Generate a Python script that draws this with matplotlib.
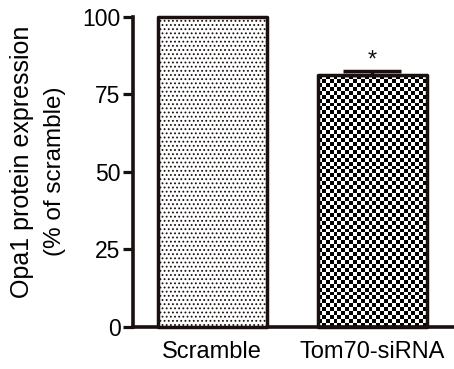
import numpy as np
import matplotlib.pyplot as plt

plt.rcParams['font.family'] = ['Liberation Sans', 'DejaVu Sans']
plt.rcParams['hatch.color'] = '#505050'
plt.rcParams['hatch.linewidth'] = 0.8

groups = ['Scramble', 'Tom70-siRNA']
values = [100.0, 81.3]
errors = [0.0, 1.3]
star_y = 86.0

ink = '#1a1010'
fig = plt.figure(figsize=(4.54, 3.69), dpi=100)
ax = fig.add_axes([0.293, 0.114, 0.707, 0.840])

x = np.arange(len(groups))
bars = ax.bar(x, values, width=0.68, color='white', edgecolor=ink,
              linewidth=2.5, zorder=3, clip_on=False)
bars[0].set_hatch('....')
for b in bars:
    b.set_joinstyle('round')

# checkerboard fill for the second bar
b = bars[1]
bx, bw, bh = b.get_x(), b.get_width(), b.get_height()
ncol, nrow = 28, 64
chk = (np.indices((nrow, ncol)).sum(axis=0) % 2).astype(float)
im = ax.imshow(chk, cmap='gray', extent=(bx, bx + bw, 0, bh), aspect='auto',
               interpolation='nearest', zorder=2)
im.set_clip_path(b)
b.set_facecolor('none')

ax.errorbar(x[1], values[1], yerr=[[0], [errors[1]]], fmt='none', ecolor=ink,
            elinewidth=2.5, capsize=21, capthick=2.5, zorder=4)
ax.text(x[1], star_y, '*', ha='center', va='center', fontsize=17, color=ink)

ax.set_xlim(-0.494, 1.51)
ax.set_ylim(0, 100)
ax.set_yticks([0, 25, 50, 75, 100])
ax.set_xticks(x)
ax.set_xticklabels(groups, fontsize=17)
ax.tick_params(axis='y', labelsize=16.5, length=7, width=2.3, pad=2, color=ink)
ax.tick_params(axis='x', length=0, pad=10)
for s in ['top', 'right']:
    ax.spines[s].set_visible(False)
for s in ['left', 'bottom']:
    ax.spines[s].set_linewidth(2.6)
    ax.spines[s].set_color(ink)

# y label as two rotated lines
fig.text(22 / 454, 1 - 162 / 369, 'Opa1 protein expression', rotation=90,
         ha='center', va='center', fontsize=18)
fig.text(55 / 454, 1 - 171 / 369, '(% of scramble)', rotation=90,
         ha='center', va='center', fontsize=17.5)

fig.savefig('out.png', dpi=100)
